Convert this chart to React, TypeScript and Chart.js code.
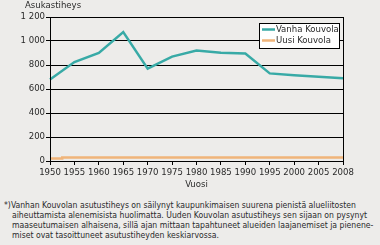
import React, { useEffect, useRef, useState } from "react";
import { Chart, registerables } from "chart.js";

Chart.register(...registerables);

const years = ["1950", "1955", "1960", "1965", "1970", "1975", "1980", "1985", "1990", "1995", "2000", "2005", "2008"];
const vanhaKouvola = [680, 825, 900, 1075, 770, 870, 920, 902, 895, 730, 715, 702, 690];
const uusiKouvola = [20, 30, 30, 30, 30, 30, 30, 30, 30, 30, 30, 30, 30];
const yTicks = [0, 200, 400, 600, 800, 1000, 1200];
const seriesNames = ["Vanha Kouvola", "Uusi Kouvola"];
const seriesColors = ["#38aaa6", "#f0b47a"];
const footnoteLines = [
  "*)Vanhan Kouvolan asutustiheys on säilynyt kaupunkimaisen suurena pienistä alueliitosten",
  "aiheuttamista alenemisista huolimatta. Uuden Kouvolan asutustiheys sen sijaan on pysynyt",
  "maaseutumaisen alhaisena, sillä ajan mittaan tapahtuneet alueiden laajanemiset ja pienene-",
  "miset ovat tasoittuneet asutustiheyden keskiarvossa.",
];

const FONT = "'DejaVu Sans Condensed', 'DejaVu Sans', sans-serif";
const FS = 9.5;
const FOOT_FS = 9.5;
const TEXT = "#2a2a2a";

const decorPlugin = {
  id: "decor",
  afterDraw(chart: any) {
    const { ctx, chartArea } = chart;
    const { left, right, top, bottom } = chartArea;
    ctx.save();
    ctx.strokeStyle = "#000";
    ctx.lineWidth = 1;
    ctx.strokeRect(Math.round(left) + 0.5, Math.round(top) + 0.5, Math.round(right - left), Math.round(bottom - top));
    ctx.fillStyle = TEXT;
    ctx.font = `${FS}px ${FONT}`;
    ctx.textBaseline = "middle";
    ctx.textAlign = "left";
    ctx.fillText("Asukastiheys", left - 25, top - 11);
    ctx.textAlign = "center";
    ctx.fillText("Vuosi", (left + right) / 2, bottom + 24);
    const bx = right - 84, by = top + 6, bw = 80, bh = 25;
    ctx.fillStyle = "#fff";
    ctx.fillRect(bx, by, bw, bh);
    ctx.strokeStyle = "#000";
    ctx.strokeRect(bx + 0.5, by + 0.5, bw, bh);
    seriesNames.forEach((name, i) => {
      const ly = by + 6.5 + i * 11;
      ctx.strokeStyle = seriesColors[i];
      ctx.lineWidth = 2.5;
      ctx.beginPath();
      ctx.moveTo(bx + 3, ly);
      ctx.lineTo(bx + 16, ly);
      ctx.stroke();
      ctx.fillStyle = TEXT;
      ctx.textAlign = "left";
      ctx.fillText(name, bx + 17, ly + 0.5);
    });
    ctx.restore();
  },
};

export default function App() {
  const ref = useRef<HTMLCanvasElement>(null);
  const [scale, setScale] = useState(1);
  useEffect(() => {
    document.body.style.margin = "0";
    document.body.style.background = "#edecea";
    const mctx = document.createElement("canvas").getContext("2d")!;
    mctx.font = `${FOOT_FS}px ${FONT}`;
    const w = mctx.measureText(footnoteLines[0]).width;
    if (w > 0) setScale(Math.min(1, 352 / w));
    const chart = new Chart(ref.current!, {
      type: "line",
      data: {
        labels: years,
        datasets: [
          { label: seriesNames[0], data: vanhaKouvola, borderColor: seriesColors[0], borderWidth: 2.5, pointRadius: 0, tension: 0 },
          { label: seriesNames[1], data: uusiKouvola, borderColor: seriesColors[1], borderWidth: 2.5, pointRadius: 0, stepped: "middle" },
        ],
      },
      options: {
        responsive: false,
        animation: false,
        layout: { padding: { top: 17, right: 37, left: 0, bottom: 0 } },
        plugins: { legend: { display: false }, tooltip: { enabled: false }, title: { display: false } },
        scales: {
          x: {
            offset: false,
            grid: { drawOnChartArea: false, drawTicks: true, tickLength: 4, color: "#000" },
            border: { color: "#000" },
            ticks: { color: TEXT, font: { family: FONT, size: FS }, padding: 2, maxRotation: 0, autoSkip: false },
            afterFit: (s: any) => { s.height = 34; },
          },
          y: {
            min: 0,
            max: 1200,
            afterBuildTicks: (s: any) => { s.ticks = yTicks.map((v) => ({ value: v })); },
            grid: { color: "#000", tickLength: 4 },
            border: { color: "#000" },
            ticks: {
              color: TEXT,
              font: { family: FONT, size: FS },
              padding: 1,
              callback: (v: any) => (Number(v) >= 1000 ? `${Math.floor(Number(v) / 1000)} ${String(Number(v) % 1000).padStart(3, "0")}` : String(v)),
            },
            afterFit: (s: any) => { s.width = 50; },
          },
        },
      },
      plugins: [decorPlugin],
    });
    return () => chart.destroy();
  }, []);
  return (
    <div style={{ position: "relative", width: 380, height: 245, background: "#edecea", overflow: "hidden", fontFamily: FONT, color: TEXT }}>
      <canvas ref={ref} width={380} height={195} style={{ display: "block" }} />
      <div
        style={{
          position: "absolute",
          left: 4,
          top: 199.5,
          fontSize: FOOT_FS,
          lineHeight: "10px",
          whiteSpace: "nowrap",
          transform: `scaleX(${scale})`,
          transformOrigin: "left top",
        }}
      >
        {footnoteLines.map((l, i) => (
          <div key={i} style={{ paddingLeft: i === 0 ? 0 : 8 / scale }}>{l}</div>
        ))}
      </div>
    </div>
  );
}
